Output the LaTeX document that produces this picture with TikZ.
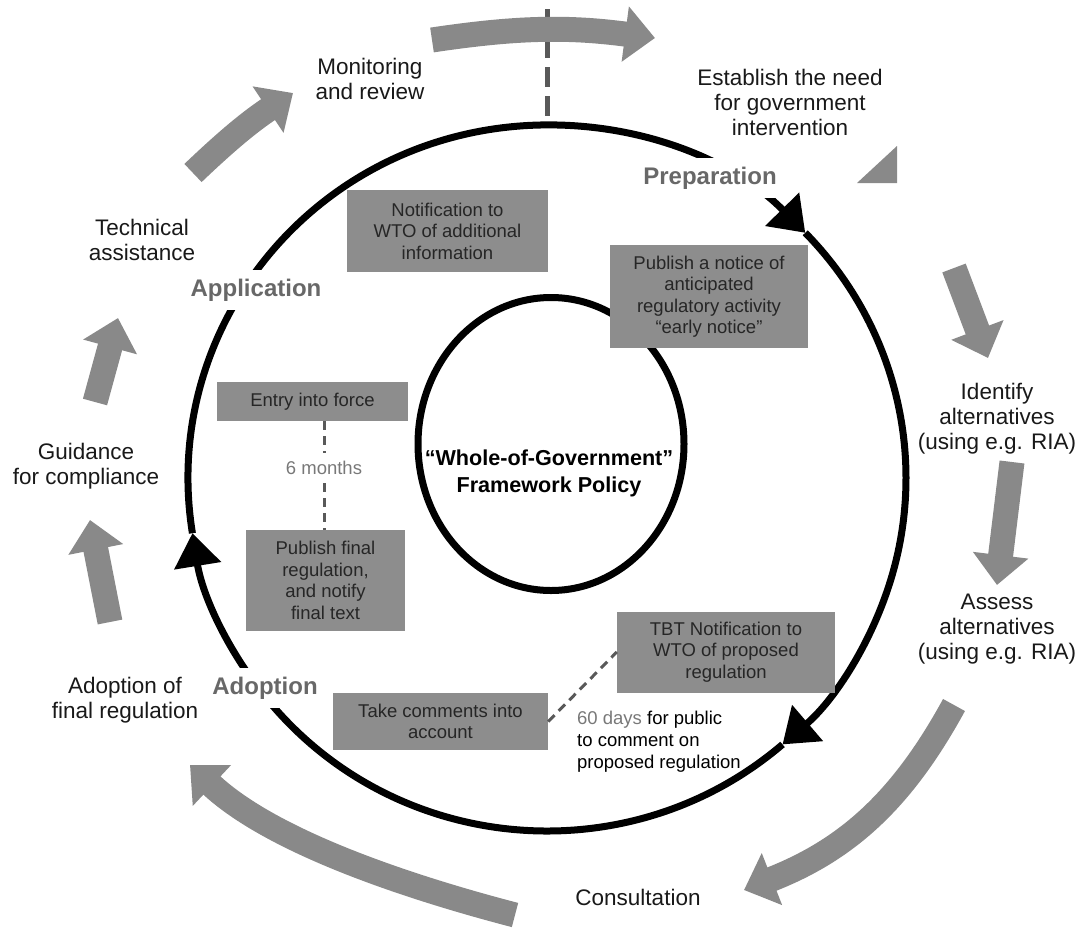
\documentclass[tikz,border=0pt]{standalone}
\usepackage{fontspec}
\setmainfont{Liberation Sans}
\usetikzlibrary{arrows.meta,shapes.geometric}
\definecolor{boxgray}{RGB}{141,141,141}
\definecolor{flowgray}{RGB}{137,137,137}
\definecolor{phasegray}{RGB}{104,104,104}
\definecolor{notegray}{RGB}{120,120,120}

\begin{document}
\begin{tikzpicture}[x=1pt,y=1pt,
					stage/.style={align=center, inner sep=0, text=black!90, font=\fontsize{22.5}{25}\selectfont},
					box/.style={fill=boxgray, align=center, inner sep=0, text=black!85, font=\fontsize{18.5}{21.5}\selectfont},
					phase/.style={fill=white, inner xsep=6pt, inner ysep=9pt, text=phasegray, font=\bfseries\fontsize{24}{26}\selectfont},
					flow/.style={draw=flowgray, line width=25pt, -{Triangle[length=30pt,width=54pt]}},
					cycleline/.style={line width=7pt, -{Triangle[length=33pt,width=46pt]}},
					tick/.style={draw=black!65, line width=3pt, dash pattern=on 9pt off 6pt},
					topdash/.style={draw=black!65, line width=5pt, dash pattern=on 20pt off 9pt}]
					\useasboundingbox (0,0) rectangle (1077,-927);
					
					\coordinate (ctr) at (547,-478);
					\coordinate (cycletop) at (547,-125);
					\coordinate (dashtop) at (547,-9);
					
					\draw[cycleline] ([shift={(189:359 and 353)}]ctr) arc[start angle=189, end angle=44, x radius=359, y radius=353];
					\draw[cycleline] ([shift={(44:359 and 353)}]ctr) arc[start angle=44, end angle=-49, x radius=359, y radius=353];
					\draw[cycleline] ([shift={(-49:359 and 353)}]ctr) arc[start angle=-49, end angle=-171, x radius=359, y radius=353];
					\draw[topdash] (dashtop) -- (cycletop);
					
					\node[draw, ellipse, line width=7pt, minimum width=266pt, minimum height=293pt, inner sep=0] (core) at (551,-444) {};
					\node[align=center, inner sep=0, font=\bfseries\fontsize{21.6}{27}\selectfont] (policy) at (549,-473) {“Whole-of-Government”\\Framework Policy};
					
					\node[phase] (application) at (256,-290) {Application};
					\node[phase] (preparation) at (710,-178) {Preparation};
					\node[phase] (adoption) at (265,-688) {Adoption};
					
					\node[stage] (monitor) at (370,-79) {Monitoring\\and review};
					\node[stage] (need) at (790,-102) {Establish the need\\for government\\intervention};
					\node[stage] (identify) at (997,-419) {Identify\\alternatives\\(using e.g. RIA)};
					\node[stage] (assess) at (997,-629) {Assess\\alternatives\\(using e.g. RIA)};
					\node[stage] (consult) at (638,-897) {Consultation};
					\node[stage] (adopt) at (125,-700) {Adoption of\\final regulation};
					\node[stage] (guide) at (86,-466) {Guidance\\for compliance};
					\node[stage] (techassist) at (142,-240) {Technical\\assistance};
					
					\node[box, minimum width=201pt, minimum height=82pt] (notifyadd) at (447.5,-231) {Notification to\\WTO of additional\\information};
					\node[box, minimum width=198pt, minimum height=103pt] (earlynotice) at (709,-296.5) {Publish a notice of\\anticipated\\regulatory activity\\“early notice”};
					\node[box, minimum width=191pt, minimum height=39pt] (entry) at (312.5,-401.5) {Entry into force};
					\node[box, minimum width=159pt, minimum height=101pt] (publishfinal) at (325.5,-580.5) {Publish final\\regulation,\\and notify\\final text};
					\node[box, minimum width=215pt, minimum height=57pt] (takecomments) at (440.5,-721.5) {Take comments into\\account};
					\node[box, minimum width=218pt, minimum height=81pt] (tbt) at (726,-652) {TBT Notification to\\WTO of proposed\\regulation};
					
					\node[inner sep=8pt, text=notegray, font=\fontsize{18.5}{21}\selectfont] (sixmonths) at (324,-468) {6 months};
					\node[anchor=west, align=left, inner sep=0, font=\fontsize{18.5}{22}\selectfont] (sixtydays) at (577,-742) {\textcolor{notegray}{60 days} for public\\to comment on\\proposed regulation};
					
					\draw[tick] (entry.south -| sixmonths) -- (sixmonths);
					\draw[tick] (sixmonths) -- (publishfinal.north -| sixmonths);
					\draw[tick] (takecomments.east) -- (tbt.west);
					
					\coordinate (f1a) at (110,-622);
					\coordinate (f1b) at (90,-520);
					\coordinate (f2a) at (95,-402);
					\coordinate (f2b) at (118,-318);
					\coordinate (f3a) at (193,-173);
					\coordinate (f3b) at (293,-93);
					\coordinate (f4a) at (432,-40);
					\coordinate (f4b) at (655,-38);
					\coordinate (f5a) at (954,-268);
					\coordinate (f5b) at (988,-358);
					\coordinate (f6a) at (1012,-462);
					\coordinate (f6b) at (997,-585);
					\coordinate (f7a) at (954,-705);
					\coordinate (f7b) at (744,-890);
					\coordinate (f8a) at (515,-915);
					\coordinate (f8b) at (190,-765);
					
					\draw[flow] (f1a) -- (f1b);
					\draw[flow] (f2a) -- (f2b);
					\draw[flow] (f3a) to[bend left=5] (f3b);
					\draw[flow] (f4a) to[bend left=8] (f4b);
					\fill[flowgray] (897,-146) -- (897,-183) -- (857,-183) -- cycle;
					\draw[flow] (f5a) -- (f5b);
					\draw[flow] (f6a) -- (f6b);
					\draw[flow] (f7a) to[bend left=20] (f7b);
					\draw[flow] (f8a) .. controls (400,-885) and (270,-840) .. (f8b);
				\end{tikzpicture}
\end{document}
